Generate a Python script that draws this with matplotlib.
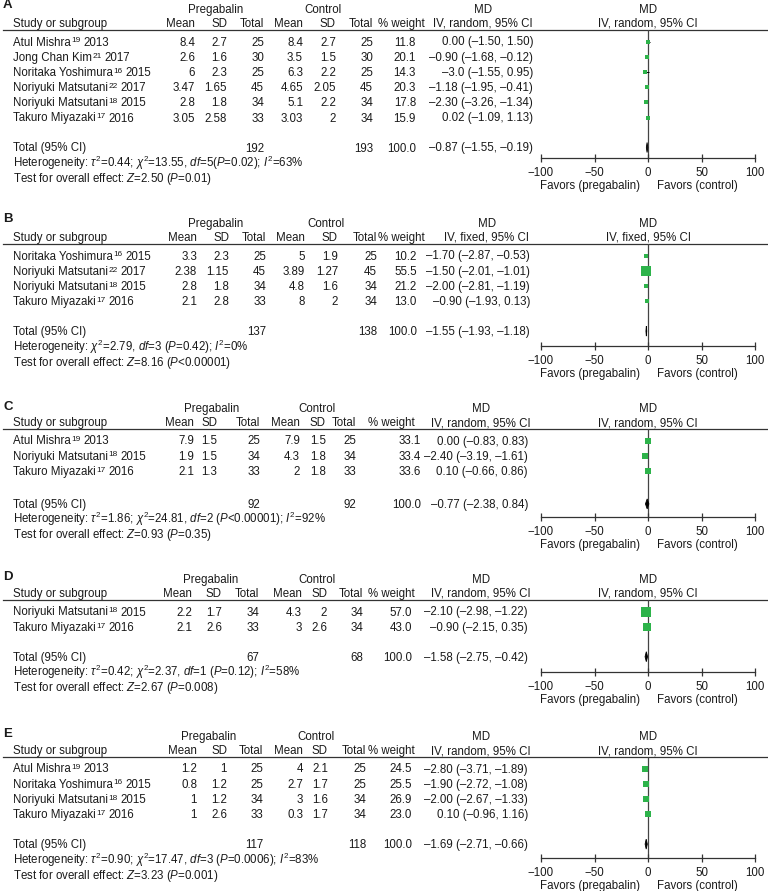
import numpy as np
import matplotlib
matplotlib.use("Agg")
import matplotlib.pyplot as plt

plt.rcParams['font.family'] = ['Liberation Sans', 'DejaVu Sans']
plt.rcParams['mathtext.fontset'] = 'custom'
plt.rcParams['mathtext.rm'] = 'Liberation Sans'
plt.rcParams['mathtext.it'] = 'Liberation Sans:italic'
plt.rcParams['mathtext.bf'] = 'Liberation Sans:bold'

### DATA
# Panel A
a_author = ["Atul Mishra", "Jong Chan Kim", "Noritaka Yoshimura", "Noriyuki Matsutani",
            "Noriyuki Matsutani", "Takuro Miyazaki"]
a_ref = ["19", "21", "16", "22", "18", "17"]
a_year = [2013, 2017, 2015, 2017, 2015, 2016]
a_p_mean = [8.4, 2.6, 6, 3.47, 2.8, 3.05]
a_p_sd = [2.7, 1.6, 2.3, 1.65, 1.8, 2.58]
a_p_n = [25, 30, 25, 45, 34, 33]
a_c_mean = [8.4, 3.5, 6.3, 4.65, 5.1, 3.03]
a_c_sd = [2.7, 1.5, 2.2, 2.05, 2.2, 2]
a_c_n = [25, 30, 25, 45, 34, 34]
a_weight = [11.8, 20.1, 14.3, 20.3, 17.8, 15.9]
a_md = [0.00, -0.90, -3.0, -1.18, -2.30, 0.02]
a_lo = [-1.50, -1.68, -1.55, -1.95, -3.26, -1.09]
a_hi = [1.50, -0.12, 0.95, -0.41, -1.34, 1.13]
a_ci = ["0.00 (–1.50, 1.50)", "–0.90 (–1.68, –0.12)", "–3.0 (–1.55, 0.95)",
        "–1.18 (–1.95, –0.41)", "–2.30 (–3.26, –1.34)", "0.02 (–1.09, 1.13)"]
a_total = [192, 193, -0.87, -1.55, -0.19, "–0.87 (–1.55, –0.19)"]
a_het = r"Heterogeneity: $\tau^2$=0.44; $\chi^2$=13.55, $df$=5($P$=0.02); $I^2$=63%"
a_test = r"Test for overall effect: $Z$=2.50 ($P$=0.01)"

# Panel B
b_author = ["Noritaka Yoshimura", "Noriyuki Matsutani", "Noriyuki Matsutani", "Takuro Miyazaki"]
b_ref = ["16", "22", "18", "17"]
b_year = [2015, 2017, 2015, 2016]
b_p_mean = [3.3, 2.38, 2.8, 2.1]
b_p_sd = [2.3, 1.15, 1.8, 2.8]
b_p_n = [25, 45, 34, 33]
b_c_mean = [5, 3.89, 4.8, 8]
b_c_sd = [1.9, 1.27, 1.6, 2]
b_c_n = [25, 45, 34, 34]
b_weight = [10.2, 55.5, 21.2, 13.0]
b_md = [-1.70, -1.50, -2.00, -0.90]
b_lo = [-2.87, -2.01, -2.81, -1.93]
b_hi = [-0.53, -1.01, -1.19, 0.13]
b_ci = ["–1.70 (–2.87, –0.53)", "–1.50 (–2.01, –1.01)", "–2.00 (–2.81, –1.19)", "–0.90 (–1.93, 0.13)"]
b_total = [137, 138, -1.55, -1.93, -1.18, "–1.55 (–1.93, –1.18)"]
b_het = r"Heterogeneity: $\chi^2$=2.79, $df$=3 ($P$=0.42); $I^2$=0%"
b_test = r"Test for overall effect: $Z$=8.16 ($P$<0.00001)"

# Panel C
c_author = ["Atul Mishra", "Noriyuki Matsutani", "Takuro Miyazaki"]
c_ref = ["19", "18", "17"]
c_year = [2013, 2015, 2016]
c_p_mean = [7.9, 1.9, 2.1]
c_p_sd = [1.5, 1.5, 1.3]
c_p_n = [25, 34, 33]
c_c_mean = [7.9, 4.3, 2]
c_c_sd = [1.5, 1.8, 1.8]
c_c_n = [25, 34, 33]
c_weight = [33.1, 33.4, 33.6]
c_md = [0.00, -2.40, 0.10]
c_lo = [-0.83, -3.19, -0.66]
c_hi = [0.83, -1.61, 0.86]
c_ci = ["0.00 (–0.83, 0.83)", "–2.40 (–3.19, –1.61)", "0.10 (–0.66, 0.86)"]
c_total = [92, 92, -0.77, -2.38, 0.84, "–0.77 (–2.38, 0.84)"]
c_het = r"Heterogeneity: $\tau^2$=1.86; $\chi^2$=24.81, $df$=2 ($P$<0.00001); $I^2$=92%"
c_test = r"Test for overall effect: $Z$=0.93 ($P$=0.35)"

# Panel D
d_author = ["Noriyuki Matsutani", "Takuro Miyazaki"]
d_ref = ["18", "17"]
d_year = [2015, 2016]
d_p_mean = [2.2, 2.1]
d_p_sd = [1.7, 2.6]
d_p_n = [34, 33]
d_c_mean = [4.3, 3]
d_c_sd = [2, 2.6]
d_c_n = [34, 34]
d_weight = [57.0, 43.0]
d_md = [-2.10, -0.90]
d_lo = [-2.98, -2.15]
d_hi = [-1.22, 0.35]
d_ci = ["–2.10 (–2.98, –1.22)", "–0.90 (–2.15, 0.35)"]
d_total = [67, 68, -1.58, -2.75, -0.42, "–1.58 (–2.75, –0.42)"]
d_het = r"Heterogeneity: $\tau^2$=0.42; $\chi^2$=2.37, $df$=1 ($P$=0.12); $I^2$=58%"
d_test = r"Test for overall effect: $Z$=2.67 ($P$=0.008)"

# Panel E
e_author = ["Atul Mishra", "Noritaka Yoshimura", "Noriyuki Matsutani", "Takuro Miyazaki"]
e_ref = ["19", "16", "18", "17"]
e_year = [2013, 2015, 2015, 2016]
e_p_mean = [1.2, 0.8, 1, 1]
e_p_sd = [1, 1.2, 1.2, 2.6]
e_p_n = [25, 25, 34, 33]
e_c_mean = [4, 2.7, 3, 0.3]
e_c_sd = [2.1, 1.7, 1.6, 1.7]
e_c_n = [25, 25, 34, 34]
e_weight = [24.5, 25.5, 26.9, 23.0]
e_md = [-2.80, -1.90, -2.00, 0.10]
e_lo = [-3.71, -2.72, -2.67, -0.96]
e_hi = [-1.89, -1.08, -1.33, 1.16]
e_ci = ["–2.80 (–3.71, –1.89)", "–1.90 (–2.72, –1.08)", "–2.00 (–2.67, –1.33)", "0.10 (–0.96, 1.16)"]
e_total = [117, 118, -1.69, -2.71, -0.66, "–1.69 (–2.71, –0.66)"]
e_het = r"Heterogeneity: $\tau^2$=0.90; $\chi^2$=17.47, $df$=3 ($P$=0.0006); $I^2$=83%"
e_test = r"Test for overall effect: $Z$=3.23 ($P$=0.001)"

md_ticks = [-100, -50, 0, 50, 100]

### LAYOUT (pixel positions of each panel)
panels = [
    dict(tag="A", model="random", author=a_author, ref=a_ref, year=a_year, pm=a_p_mean, psd=a_p_sd, pn=a_p_n,
         cm=a_c_mean, csd=a_c_sd, cn=a_c_n, w=a_weight, md=a_md, lo=a_lo, hi=a_hi, ci=a_ci, tot=a_total,
         het=a_het, test=a_test,
         line=30, axis=158, label_y=4, cols=[195, 227, 264, 303, 336, 373], w_r=416, ci_r=533, wh_r=425,
         md_c=483, preg_c=216, ctrl_c=323, gap=30),
    dict(tag="B", model="fixed", author=b_author, ref=b_ref, year=b_year, pm=b_p_mean, psd=b_p_sd, pn=b_p_n,
         cm=b_c_mean, csd=b_c_sd, cn=b_c_n, w=b_weight, md=b_md, lo=b_lo, hi=b_hi, ci=b_ci, tot=b_total,
         het=b_het, test=b_test,
         line=244, axis=346, label_y=218, cols=[197, 229, 266, 305, 338, 377], w_r=417, ci_r=530, wh_r=425,
         md_c=487, preg_c=216, ctrl_c=326, gap=30),
    dict(tag="C", model="random", author=c_author, ref=c_ref, year=c_year, pm=c_p_mean, psd=c_p_sd, pn=c_p_n,
         cm=c_c_mean, csd=c_c_sd, cn=c_c_n, w=c_weight, md=c_md, lo=c_lo, hi=c_hi, ci=c_ci, tot=c_total,
         het=c_het, test=c_test,
         line=429, axis=517, label_y=406, cols=[194, 217, 260, 300, 326, 356], w_r=421, ci_r=528, wh_r=415,
         md_c=481, preg_c=212, ctrl_c=317, gap=33),
    dict(tag="D", model="random", author=d_author, ref=d_ref, year=d_year, pm=d_p_mean, psd=d_p_sd, pn=d_p_n,
         cm=d_c_mean, csd=d_c_sd, cn=d_c_n, w=d_weight, md=d_md, lo=d_lo, hi=d_hi, ci=d_ci, tot=d_total,
         het=d_het, test=d_test,
         line=600, axis=672, label_y=576, cols=[192, 222, 259, 302, 327, 363], w_r=412, ci_r=528, wh_r=415,
         md_c=481, preg_c=211, ctrl_c=317, gap=30),
    dict(tag="E", model="random", author=e_author, ref=e_ref, year=e_year, pm=e_p_mean, psd=e_p_sd, pn=e_p_n,
         cm=e_c_mean, csd=e_c_sd, cn=e_c_n, w=e_weight, md=e_md, lo=e_lo, hi=e_hi, ci=e_ci, tot=e_total,
         het=e_het, test=e_test,
         line=757, axis=858, label_y=733, cols=[197, 227, 263, 303, 328, 366], w_r=412, ci_r=528, wh_r=415,
         md_c=481, preg_c=209, ctrl_c=316, gap=30),
]

W, H = 768, 891
FS = 8.3
TXT = '#1a1a1a'
GREEN = '#2db34a'
F_LEFT, F_RIGHT = 541, 755   # pixel span of the -100..100 axis
ROW_STEP = 15.2

fig = plt.figure(figsize=(W / 100, H / 100), dpi=100)
ax = fig.add_axes([0, 0, 1, 1])
ax.set_xlim(0, W)
ax.set_ylim(H, 0)
ax.axis('off')
renderer = fig.canvas.get_renderer()


def put(x, y, s, ha='left', **kw):
    return ax.text(x, y + 4, s, ha=ha, va='baseline', fontsize=FS, color=TXT, **kw)


def right_edge(t):
    return ax.transData.inverted().transform((t.get_window_extent(renderer).x1, 0))[0]


def study_label(x, y, author, ref, year):
    # author name, small raised reference number, then the year
    t1 = put(x, y, author)
    t2 = ax.text(right_edge(t1) + 0.6, y + 0.8, ref, ha='left', va='baseline',
                 fontsize=FS * 0.72, color=TXT)
    put(right_edge(t2) + 2.5, y, str(year))


for p in panels:
    line = p['line']
    h1, h2 = line - 21, line - 7
    cols = p['cols']

    # panel letter and header
    ax.text(3, p['label_y'] + 4, p['tag'], fontsize=9.5, fontweight='bold', color=TXT, va='baseline')
    put(p['preg_c'], h1, "Pregabalin", 'center')
    put(p['ctrl_c'], h1, "Control", 'center')
    put(p['md_c'], h1, "MD", 'center')
    put((F_LEFT + F_RIGHT) / 2, h1, "MD", 'center')
    put(13, h2, "Study or subgroup")
    for x, lab in zip(cols, ["Mean", "SD", "Total", "Mean", "SD", "Total"]):
        put(x, h2, lab, 'right')
    put(p['wh_r'], h2, "% weight", 'right')
    put(p['md_c'], h2, f"IV, {p['model']}, 95% CI", 'center')
    put((F_LEFT + F_RIGHT) / 2, h2, f"IV, {p['model']}, 95% CI", 'center')
    ax.plot([3, W], [line, line], color='#333333', lw=0.9)

    # study rows
    n = len(p['author'])
    row_y = line + 11.5 + ROW_STEP * np.arange(n)
    for i in range(n):
        y = row_y[i]
        study_label(13, y, p['author'][i], p['ref'][i], p['year'][i])
        vals = [f"{p['pm'][i]:g}", f"{p['psd'][i]:g}", str(p['pn'][i]),
                f"{p['cm'][i]:g}", f"{p['csd'][i]:g}", str(p['cn'][i])]
        for x, v in zip(cols, vals):
            put(x, y, v, 'right')
        put(p['w_r'], y, f"{p['w'][i]:.1f}", 'right')
        put(p['ci_r'], y, p['ci'][i], 'right')

    # total rows
    tot_y = row_y[-1] + p['gap']
    tot = p['tot']
    put(13, tot_y, "Total (95% CI)")
    put(cols[2], tot_y, str(tot[0]), 'right')
    put(cols[5], tot_y, str(tot[1]), 'right')
    put(p['w_r'], tot_y, "100.0", 'right')
    put(p['ci_r'], tot_y, tot[5], 'right')
    put(13, tot_y + 15.5, p['het'])
    put(13, tot_y + 30.5, p['test'])

    # forest plot
    axis_y = p['axis']
    fx = fig.add_axes([F_LEFT / W, 1 - axis_y / H, (F_RIGHT - F_LEFT) / W, (axis_y - line) / H])
    fx.set_xlim(-100, 100)
    fx.set_ylim(axis_y, line)
    fx.patch.set_alpha(0)
    for side in ['top', 'left', 'right']:
        fx.spines[side].set_visible(False)
    fx.spines['bottom'].set_color('#333333')
    fx.spines['bottom'].set_linewidth(0.9)
    fx.set_yticks([])
    fx.set_xticks(md_ticks)
    fx.tick_params(axis='x', direction='inout', length=5.5, width=0.9, color='#333333',
                   labelsize=FS, labelcolor=TXT, pad=3.5)
    fx.axvline(0, color='#444444', lw=0.9, zorder=1)

    fx.hlines(row_y, p['lo'], p['hi'], color='black', lw=0.7, zorder=2)
    for i in range(n):
        side_px = 2 + 0.14 * p['w'][i]
        fx.plot(p['md'][i], row_y[i], marker='s', color=GREEN, markersize=side_px * 0.72,
                markeredgewidth=0, zorder=3)
    # pooled diamond
    fx.fill([tot[3], tot[2], tot[4], tot[2]], [tot_y, tot_y - 5, tot_y, tot_y + 5],
            color='black', lw=0.6, zorder=3)

    ax.text(640, axis_y + 31, "Favors (pregabalin)", ha='right', va='baseline', fontsize=FS, color=TXT)
    ax.text(657, axis_y + 31, "Favors (control)", ha='left', va='baseline', fontsize=FS, color=TXT)

fig.savefig('out.png', dpi=100)
